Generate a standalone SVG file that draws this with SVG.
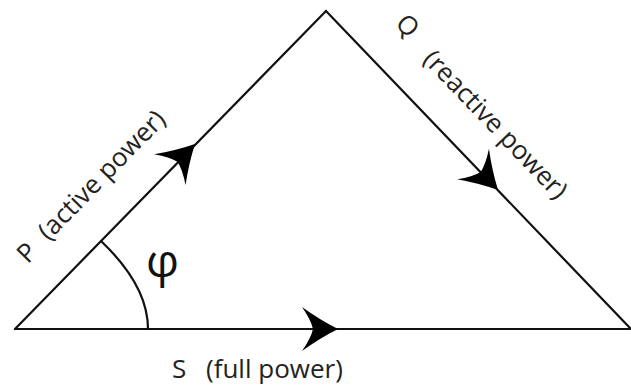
<svg xmlns="http://www.w3.org/2000/svg" width="631" height="392" viewBox="0 0 631 392">
  <style>
    .edge { stroke: #111; stroke-width: 2.2; fill: none; stroke-linecap: round; }
    .lbl { font-family: "Open Sans", "Noto Sans", "DejaVu Sans", sans-serif; font-size: 26px; fill: #222; }
    .phi { font-family: "Open Sans", "Noto Sans", "DejaVu Sans", sans-serif; font-size: 46px; fill: #111; }
  </style>
  <defs>
    <path id="ah" d="M0,0 Q-18,-9 -36,-22 Q-27,-9 -25,0 Q-27,9 -36,22 Q-18,9 0,0 Z" fill="#000"/>
  </defs>
  <rect width="631" height="392" fill="#fff"/>
  <g id="connectors">
    <line class="edge" x1="15" y1="329" x2="326" y2="11"/>
    <line class="edge" x1="326" y1="11" x2="630" y2="328"/>
    <line class="edge" x1="15" y1="329" x2="630" y2="329"/>
    <use href="#ah" transform="translate(195,144) rotate(-45.6)"/>
    <use href="#ah" transform="translate(498,190) rotate(46.2)"/>
    <use href="#ah" transform="translate(338,329)"/>
  </g>
  <g id="angle">
    <path class="edge" d="M102,242 C127,266 148,295 148,329"/>
    <text class="phi" x="146" y="277">φ</text>
  </g>
  <g id="P" transform="translate(15,329) rotate(-45.6)">
    <text class="lbl" x="55" y="-36">P</text>
    <text class="lbl" x="86" y="-37">(active power)</text>
  </g>
  <g id="Q" transform="translate(326,11) rotate(46.2)">
    <text class="lbl" x="57" y="-40">Q</text>
    <text class="lbl" x="102" y="-35">(reactive power)</text>
  </g>
  <g id="S">
    <text class="lbl" x="172" y="378">S</text>
    <text class="lbl" x="206" y="378">(full power)</text>
  </g>
</svg>
